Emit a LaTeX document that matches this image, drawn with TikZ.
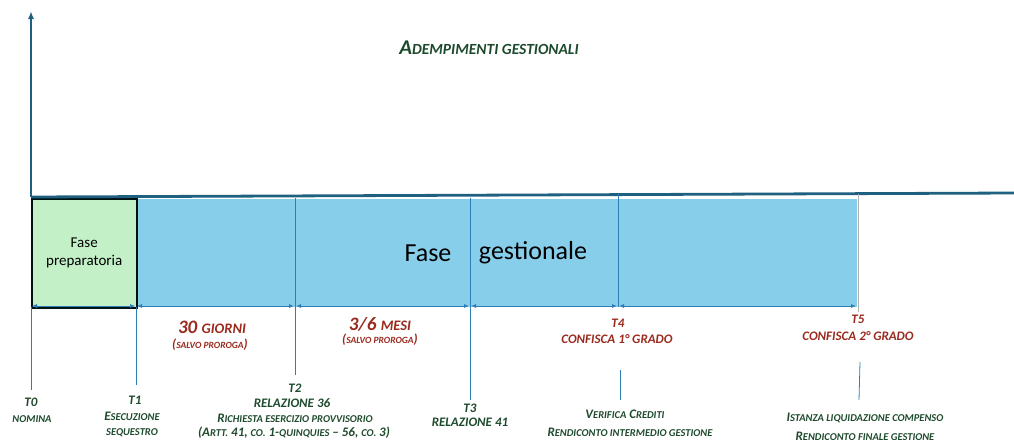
\documentclass[tikz,border=0pt]{standalone}
\usepackage{fontspec}
\setmainfont{Carlito}
\usetikzlibrary{arrows.meta}
\definecolor{axisc}{HTML}{1F5F80}
\definecolor{linec}{HTML}{2E7DB5}
\definecolor{bluef}{HTML}{87CEEB}
\definecolor{greenf}{HTML}{C4F0C8}
\definecolor{dgreen}{HTML}{1D4A2C}
\definecolor{dred}{HTML}{9A2A1E}
\newcommand\sm[1]{{\fontsize{10.5}{12}\selectfont #1}}
\newcommand\smm[1]{{\fontsize{9.5}{11}\selectfont #1}}
\begin{document}
\begin{tikzpicture}[x=1pt,y=-1pt,
  lab/.style={font=\bfseries\itshape\fontsize{13}{15}\selectfont, align=center, inner sep=0pt},
  glab/.style={lab, text=dgreen},
  rlab/.style={lab, text=dred},
  tick/.style={draw=linec, line width=0.8pt},
  span/.style={draw=linec, line width=0.8pt, {Latex[length=5pt,width=4pt]}-{Latex[length=5pt,width=4pt]}, shorten <=1pt, shorten >=1pt}
]
\useasboundingbox (0,0) rectangle (1014,442);
% boxes
\node[fill=bluef, minimum width=721pt, minimum height=108pt, anchor=north west, inner sep=0pt] (blue) at (136,199) {};
\node[fill=greenf, draw=black!85!teal, line width=1.5pt, minimum width=105pt, minimum height=109pt, anchor=north west, inner sep=0pt, font=\fontsize{15}{18}\selectfont, align=center] (green) at (31,198) {Fase\\preparatoria};
\node[font=\fontsize{26}{30}\selectfont, inner sep=0pt] (fase) at (428,253) {Fase};
\node[font=\fontsize{26}{30}\selectfont, inner sep=0pt] (gest) at (533,253) {gestionale};
% axes
\coordinate (O) at (31,197);
\coordinate (ytop) at (31,11);
\coordinate (xend) at (1014,193);
\draw[axisc, line width=2.8pt] (O) -- (xend);
\draw[axisc, line width=2pt, -{Latex[length=8pt,width=6pt]}] (O) -- (ytop);
% coordinates for ticks
\coordinate (a0) at (31,307);   \coordinate (b0) at (31,390);
\coordinate (a1) at (136,307);  \coordinate (b1) at (136,385);
\coordinate (a2) at (295,198);  \coordinate (b2) at (295,375);
\coordinate (a3) at (470,198);  \coordinate (b3) at (470,400);
\coordinate (a4) at (618,194);  \coordinate (b4) at (618,307);
\coordinate (c4) at (620,370);  \coordinate (d4) at (620,400);
\coordinate (a5) at (858,194);  \coordinate (b5) at (858,312);
\coordinate (c5) at (860,362);  \coordinate (d5) at (859,400);
\draw[tick] (a0) -- (b0);
\draw[tick] (a1) -- (b1);
\draw[tick] (a2) -- (b2);
\draw[tick] (a3) -- (b3);
\draw[tick] (a4) -- (b4);
\draw[tick] (c4) -- (d4);
\draw[draw=gray!60, line width=0.8pt] (a5) -- (b5);
\draw[tick] (c5) -- (d5);
% spans
\coordinate (s0) at (31,306); \coordinate (s1) at (136,306); \coordinate (s2) at (295,306);
\coordinate (s3) at (470,306); \coordinate (s4) at (618,306); \coordinate (s5) at (857,306);
\draw[span, line width=0.5pt] (s0) -- (s1);
\draw[span] (s1) -- (s2);
\draw[span] (s2) -- (s3);
\draw[span] (s3) -- (s4);
\draw[span] (s4) -- (s5);
% title
\node[glab, font=\bfseries\itshape\fontsize{21}{24}\selectfont] (title) at (489,48) {A{\fontsize{15.5}{18}\selectfont DEMPIMENTI GESTIONALI}};
% durations
\node[rlab, font=\bfseries\itshape\fontsize{19}{21}\selectfont] (d1) at (212,327) {30 {\fontsize{14.5}{16}\selectfont GIORNI}};
\node[rlab, font=\bfseries\itshape\fontsize{13}{15}\selectfont] (d1b) at (210,345) {(\smm{SALVO PROROGA})};
\node[rlab, font=\bfseries\itshape\fontsize{19}{21}\selectfont] (d2) at (380,324) {3/6 {\fontsize{14.5}{16}\selectfont MESI}};
\node[rlab, font=\bfseries\itshape\fontsize{13}{15}\selectfont] (d2b) at (380,340) {(\smm{SALVO PROROGA})};
\node[rlab] (t4) at (618,323) {T4};
\node[rlab] (t4b) at (617,339) {CONFISCA 1° GRADO};
\node[rlab] (t5) at (858,319) {T5};
\node[rlab] (t5b) at (858,336) {CONFISCA 2° GRADO};
% bottom labels
\node[glab] (t0) at (31,402) {T0};
\node[glab] (t0b) at (32,419) {\sm{NOMINA}};
\node[glab] (t1) at (135,400) {T1};
\node[glab] (t1b) at (132,416) {E\sm{SECUZIONE}};
\node[glab] (t1c) at (132,433) {\sm{SEQUESTRO}};
\node[glab] (t2) at (295,388) {T2};
\node[glab] (t2b) at (292,403) {RELAZIONE 36};
\node[glab] (t2c) at (295,418) {R\sm{ICHIESTA ESERCIZIO PROVVISORIO}};
\node[glab] (t2d) at (294,433) {(A\sm{RTT.} 41, \sm{CO.} 1-\sm{QUINQUIES} – 56, \sm{CO.} 3)};
\node[glab] (t3) at (470,408) {T3};
\node[glab] (t3b) at (470,422) {RELAZIONE 41};
\node[glab] (v1) at (625,414) {V\sm{ERIFICA} C\sm{REDITI}};
\node[glab] (v2) at (630,432) {R\sm{ENDICONTO INTERMEDIO GESTIONE}};
\node[glab] (w1) at (865,418) {I\sm{STANZA LIQUIDAZIONE COMPENSO}};
\node[glab] (w2) at (865,436) {R\sm{ENDICONTO FINALE GESTIONE}};
\end{tikzpicture}
\end{document}
